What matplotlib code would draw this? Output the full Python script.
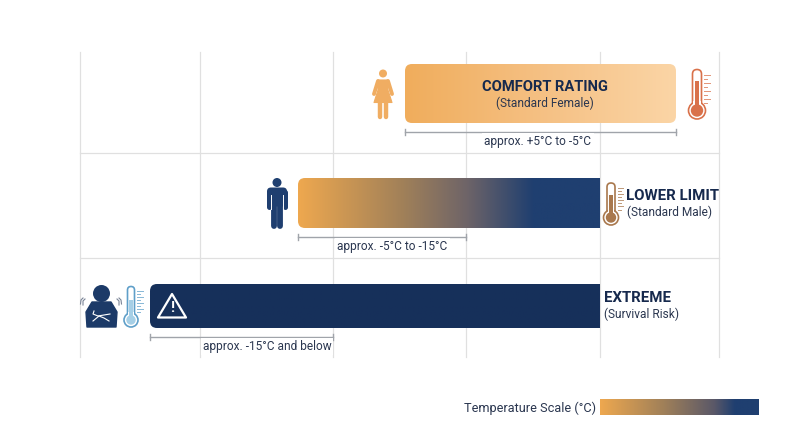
import numpy as np
import matplotlib
matplotlib.use('Agg')
import matplotlib.pyplot as plt
from matplotlib.colors import LinearSegmentedColormap
from matplotlib.patches import FancyBboxPatch, Circle, Polygon, Rectangle

plt.rcParams['font.family'] = ['Roboto', 'DejaVu Sans']

grid_x = [80, 200, 333, 466, 600, 719]
grid_y = [153, 258]
bar_left = [405, 298, 150]
bar_right = [676, 600, 600]
range_left = [405, 298, 150]
range_right = [676, 466, 333]
range_labels = ['approx. +5°C to -5°C', 'approx. -5°C to -15°C', 'approx. -15°C and below']
titles = ['COMFORT RATING', 'LOWER LIMIT', 'EXTREME']
subtitles = ['(Standard Female)', '(Standard Male)', '(Survival Risk)']
scale_title = 'Temperature Scale (°C)'

NAVY = '#16294d'
TEXT = '#2b3750'
BLUE = '#1f3f70'

comfort_cmap = LinearSegmentedColormap.from_list('c', ['#f0ad5c', '#f5c083', '#fbd5a6'])
lower_cmap = LinearSegmentedColormap.from_list(
    'l', [(0, '#eea84f'), (0.35, '#a08059'), (0.56, '#6e6468'), (0.78, '#1f3f70'), (1, '#1f3f70')])
extreme_cmap = LinearSegmentedColormap.from_list('e', ['#16305a', '#17305b'])
scale_cmap = LinearSegmentedColormap.from_list(
    's', [(0, '#eea84f'), (0.4, '#a08059'), (0.72, '#5a5868'), (0.85, '#1f3f70'), (1, '#1f3f70')])

fig = plt.figure(figsize=(8, 4.47), dpi=100)
ax = fig.add_axes([0, 0, 1, 1])
ax.set_xlim(0, 800)
ax.set_ylim(447, 0)
ax.axis('off')

for x in grid_x:
    ax.plot([x, x], [52, 357], color='#e0e0e0', lw=0.9, zorder=1)
for y in grid_y:
    ax.plot([80, 719], [y, y], color='#e0e0e0', lw=0.9, zorder=1)


def grad_bar(x0, x1, y0, y1, cmap, round_right=True):
    g = np.linspace(0, 1, 256).reshape(1, -1)
    im = ax.imshow(g, cmap=cmap, extent=[x0, x1, y1, y0], aspect='auto', zorder=3, vmin=0, vmax=1)
    w = x1 - x0 if round_right else x1 - x0 + 30
    clip = FancyBboxPatch((x0 + 7, y0 + 7), w - 14, y1 - y0 - 14,
                          boxstyle='round,pad=7,rounding_size=7', transform=ax.transData,
                          fc='none', ec='none')
    ax.add_patch(clip)
    im.set_clip_path(clip)


def thermometer(cx, top, bottom, color, fill=None, level=0.3, r=8.5, half=4.5):
    fill = fill or color
    cy = bottom - r
    ax.add_patch(FancyBboxPatch((cx - 1, top + 4), 2, bottom - top - 12,
                                boxstyle='round,pad=%.1f,rounding_size=%.1f' % (half - 1, half),
                                fc='white', ec=color, lw=1.2, zorder=5))
    ax.add_patch(Circle((cx, cy), r, fc='white', ec=color, lw=1.2, zorder=5))
    ax.add_patch(Rectangle((cx, top), 0, 0))
    ax.add_patch(Rectangle((cx - 1.7, top + (cy - top) * level), 3.4, (cy - top) * (1 - level),
                           fc=fill, ec='none', zorder=7))
    ax.add_patch(Rectangle((cx - half + 0.7, cy - r - 1), 2 * half - 1.4, 3, fc='white', ec='none', zorder=6))
    ax.add_patch(Circle((cx, cy), r - 2.3, fc=fill, ec='none', zorder=7))
    for i, yy in enumerate(np.linspace(top + 6, cy - 8, 8)):
        ax.plot([cx + half + 2.5, cx + half + (8 if i % 2 == 0 else 5.5)], [yy, yy],
                color=color, lw=0.7, alpha=0.75, zorder=5)


def limb(x0, y0, x1, y1, lw, color):
    ax.plot([x0, x1], [y0, y1], color=color, lw=lw, solid_capstyle='round', zorder=5)


def female(cx, color):
    ax.add_patch(Circle((cx, 73.5), 4, fc=color, ec='none', zorder=5))
    ax.add_patch(Polygon([(cx - 5, 80), (cx + 5, 80), (cx + 5, 90), (cx + 9, 102.5), (cx - 9, 102.5), (cx - 5, 90)],
                         closed=True, fc=color, ec=color, lw=0.8, joinstyle='round', zorder=5))
    limb(cx - 5, 81, cx - 9, 94, 2.8, color)
    limb(cx + 5, 81, cx + 9, 94, 2.8, color)
    limb(cx - 2.8, 103, cx - 2.8, 116.5, 3.2, color)
    limb(cx + 2.8, 103, cx + 2.8, 116.5, 3.2, color)


def male(cx, color):
    ax.add_patch(Circle((cx, 182.5), 4.5, fc=color, ec='none', zorder=5))
    ax.add_patch(FancyBboxPatch((cx - 7.5, 190), 15, 14, boxstyle='round,pad=2.5,rounding_size=4',
                                fc=color, ec='none', zorder=5))
    limb(cx - 8.3, 192, cx - 8.3, 207, 3.6, color)
    limb(cx + 8.3, 192, cx + 8.3, 207, 3.6, color)
    limb(cx - 2.9, 206, cx - 2.9, 226, 4.2, color)
    limb(cx + 2.9, 206, cx + 2.9, 226, 4.2, color)
    ax.plot([cx - 5.9, cx - 5.9], [195, 209], color='white', lw=0.7, zorder=6)
    ax.plot([cx + 5.9, cx + 5.9], [195, 209], color='white', lw=0.7, zorder=6)


def cold_person(cx, color):
    ax.add_patch(Circle((cx + 0.5, 293.5), 8.5, fc=color, ec='none', zorder=5))
    ax.add_patch(Polygon([(cx - 9, 302), (cx + 10, 302), (cx + 16, 312), (cx + 15, 327), (cx - 14, 327), (cx - 15, 312)],
                         closed=True, fc=color, ec=color, lw=1, joinstyle='round', zorder=5))
    ax.plot([cx - 7, cx - 8, cx - 3, cx + 9], [311, 314, 316, 314], color='white', lw=0.8, zorder=6)
    ax.plot([cx - 8, cx - 2, cx + 3, cx + 8], [321, 316, 318, 321], color='white', lw=0.8, zorder=6)
    for s in (-1, 1):
        ax.plot([cx + s * 16, cx + s * 18, cx + s * 18], [299, 301, 305], color='#7a8496', lw=0.8, zorder=5)
        ax.plot([cx + s * 18, cx + s * 20, cx + s * 20.5], [298, 300, 304], color='#7a8496', lw=0.8, zorder=5)


bar_y = [(64, 123), (178, 228), (284, 328)]
cmaps = [comfort_cmap, lower_cmap, extreme_cmap]
for i in range(3):
    grad_bar(bar_left[i], bar_right[i], bar_y[i][0], bar_y[i][1], cmaps[i], round_right=(i == 0))

# range brackets and their labels
bracket_y = [132, 237, 337]
label_x = [538, 392.5, 267]
for i in range(3):
    y = bracket_y[i]
    ax.plot([range_left[i], range_right[i]], [y, y], color='#a0a4aa', lw=1, zorder=4)
    for x in (range_left[i], range_right[i]):
        ax.plot([x, x], [y - 3, y + 3], color='#a0a4aa', lw=1, zorder=4)
    ax.text(label_x[i], y + 9.3, range_labels[i], ha='center', va='center', fontsize=8.6, color=TEXT, zorder=5,
            bbox=dict(fc='white', ec='none', pad=1.5))

# titles
ax.text(545, 87, titles[0], ha='center', va='center', fontsize=10.6, fontweight='bold', color=NAVY, zorder=8)
ax.text(545, 103, subtitles[0], ha='center', va='center', fontsize=8.6, color=TEXT, zorder=8)
ax.text(626, 196, titles[1], ha='left', va='center', fontsize=10.8, fontweight='bold', color=NAVY, zorder=8)
ax.text(627, 212, subtitles[1], ha='left', va='center', fontsize=8.6, color=TEXT, zorder=8)
ax.text(604, 298, titles[2], ha='left', va='center', fontsize=10.8, fontweight='bold', color=NAVY, zorder=8)
ax.text(604, 314, subtitles[2], ha='left', va='center', fontsize=8.6, color=TEXT, zorder=8)

# icons
female(383, '#f0ad62')
male(277, BLUE)
cold_person(101, '#1c3a68')
thermometer(697, 69, 119, '#d9714a', level=0.28)
thermometer(611, 182, 225, '#a9784d', level=0.38, r=7.5, half=4)
thermometer(131, 285, 327, '#5f9fc9', fill='#a6cfe6', level=0.42, r=7, half=3.5)

# warning sign on the extreme bar
ax.add_patch(Polygon([(172, 294), (186, 317.5), (158, 317.5)], closed=True, fc='none', ec='white', lw=1.6,
                     joinstyle='round', zorder=6))
ax.text(172, 308, '!', ha='center', va='center', fontsize=11, fontweight='bold', color='white', zorder=6)

# colour scale
ax.text(596, 408, scale_title, ha='right', va='center', fontsize=9.2, color=TEXT)
g = np.linspace(0, 1, 256).reshape(1, -1)
ax.imshow(g, cmap=scale_cmap, extent=[600, 759, 415, 399], aspect='auto', zorder=3)
ax.set_xlim(0, 800)
ax.set_ylim(447, 0)

fig.savefig('out.png', dpi=100)
